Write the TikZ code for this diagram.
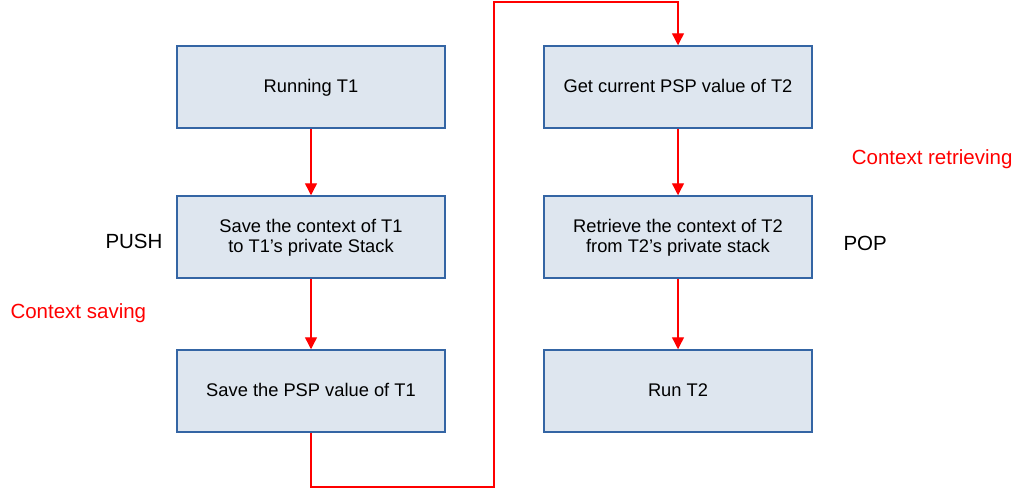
\documentclass[tikz,border=0pt]{standalone}
\usepackage{fontspec}
\setmainfont{Liberation Sans}
\usetikzlibrary{arrows.meta}
\definecolor{boxfill}{HTML}{DEE6EF}
\definecolor{boxline}{HTML}{3465A4}
\definecolor{arr}{HTML}{FF0000}
\begin{document}
\begin{tikzpicture}[x=1pt,y=-1pt,
  stepbox/.style={draw=boxline,fill=boxfill,line width=1.5pt,minimum width=268pt,minimum height=82pt,inner sep=0pt,align=center,text depth=2pt,font=\fontsize{18.3}{20.5}\selectfont},
  conn/.style={draw=arr,line width=1.4pt,-{Triangle[length=12pt,width=12pt]}},
  lbl/.style={font=\fontsize{20.5}{24}\selectfont},
  redlbl/.style={font=\fontsize{20.5}{24}\selectfont,text=arr}]
\useasboundingbox (0,0) rectangle (1024,488);
\node[stepbox] (a1) at (311,87) {Running T1};
\node[stepbox] (a2) at (311,237) {Save the context of T1\\to T1’s private Stack};
\node[stepbox] (a3) at (311,391) {Save the PSP value of T1};
\node[stepbox] (b1) at (678,87) {Get current PSP value of T2};
\node[stepbox] (b2) at (678,237) {Retrieve the context of T2\\from T2’s private stack};
\node[stepbox] (b3) at (678,391) {Run T2};
\node[lbl,anchor=east] (push) at (166,241) {PUSH};
\node[redlbl,anchor=west] (cs) at (7,313) {Context saving};
\node[redlbl,anchor=east] (cr) at (1016,159) {Context retrieving};
\node[lbl,anchor=west] (pop) at (840,243) {POP};
\coordinate (c1) at (311,487);
\coordinate (c2) at (494,487);
\coordinate (c3) at (494,2);
\coordinate (c4) at (678,2);
\draw[conn] (a1) -- (a2);
\draw[conn] (a2) -- (a3);
\draw[conn] (a3.south) -- (c1) -- (c2) -- (c3) -- (c4) -- (b1.north);
\draw[conn] (b1) -- (b2);
\draw[conn] (b2) -- (b3);
\end{tikzpicture}
\end{document}
